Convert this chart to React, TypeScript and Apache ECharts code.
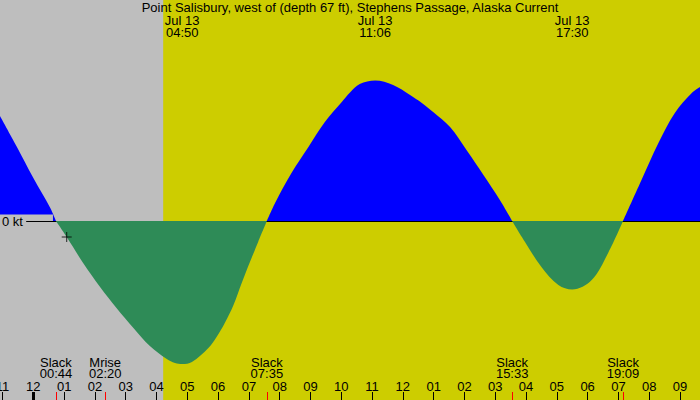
import React, { useEffect, useRef } from "react";
import * as echarts from "echarts";

const TITLE = "Point Salisbury, west of (depth 67 ft), Stephens Passage, Alaska Current";

// minutes from midnight Jul 13, current speed in knots (+ flood, - ebb)
const MINUTES = [
  -65, -32, 0, 33, 44, 65, 97, 130, 162, 195, 227, 260, 276, 290, 309, 341, 357, 373, 390, 406,
  422, 438, 455, 471, 503, 536, 568, 601, 617, 636, 666, 701, 734, 757, 779, 812, 844, 877, 909,
  933, 958, 990, 1023, 1050, 1088, 1120, 1149, 1185, 1218, 1250, 1283, 1299,
];
const KNOTS = [
  1.05, 0.74, 0.43, 0.13, 0, -0.16, -0.42, -0.66, -0.87, -1.07, -1.25, -1.38, -1.42, -1.43, -1.41,
  -1.27, -1.16, -1.02, -0.84, -0.62, -0.41, -0.21, 0, 0.18, 0.48, 0.74, 0.99, 1.19, 1.285, 1.37,
  1.405, 1.36, 1.26, 1.18, 1.09, 0.94, 0.71, 0.46, 0.21, 0, -0.21, -0.46, -0.64, -0.685, -0.59,
  -0.32, 0, 0.41, 0.78, 1.08, 1.28, 1.34,
];

const HOUR_TICKS = [
  -60, 0, 60, 120, 180, 240, 300, 360, 420, 480, 540, 600, 660, 720, 780, 840, 900, 960, 1020,
  1080, 1140, 1200, 1260,
];
const HOUR_LABELS = [
  "11", "12", "01", "02", "03", "04", "05", "06", "07", "08", "09", "10", "11", "12", "01", "02",
  "03", "04", "05", "06", "07", "08", "09",
];
const MIDNIGHT = [0];

const EVENT_MINUTES = [44, 140, 455, 933, 1149];
const EVENT_NAMES = ["Slack", "Mrise", "Slack", "Slack", "Slack"];
const EVENT_TIMES = ["00:44", "02:20", "07:35", "15:33", "19:09"];

const PEAK_MINUTES = [290, 666, 1050];
const PEAK_DATES = ["Jul 13", "Jul 13", "Jul 13"];
const PEAK_TIMES = ["04:50", "11:06", "17:30"];

const SUNRISE = 253;
const NOW_POINT = [65, -0.16];
const ZERO_LINE_START = -14;

const X_MIN = -65;
const X_MAX = 1299;
const Y_MIN = -1.79;
const Y_MAX = 2.21;

const FONT = "'Liberation Sans', Arial, sans-serif";
const FS = 13;
const NIGHT = "#bebebe";
const DAY = "#cdcd00";

export default function App() {
  const ref = useRef<HTMLDivElement>(null);

  useEffect(() => {
    document.body.style.margin = "0";
    const chart = echarts.init(ref.current!, undefined, { renderer: "svg" });

    const flood = MINUTES.map((m, i) => [m, KNOTS[i] >= 0 ? KNOTS[i] : null]);
    const ebb = MINUTES.map((m, i) => [m, KNOTS[i] <= 0 ? KNOTS[i] : null]);

    const baseX = {
      type: "value" as const,
      min: X_MIN,
      max: X_MAX,
      gridIndex: 0,
      splitLine: { show: false },
      axisLine: { show: false, onZero: false },
      z: 10,
    };

    const option: any = {
      animation: false,
      backgroundColor: DAY,
      title: {
        text: TITLE,
        left: "center",
        top: 1,
        padding: 0,
        z: 10,
        textStyle: { fontFamily: FONT, fontSize: FS, fontWeight: "normal", color: "#000", lineHeight: 12 },
      },
      grid: { left: 0, right: 0, top: 0, bottom: 0, containLabel: false, outerBoundsMode: "none" },
      xAxis: [
        {
          ...baseX,
          position: "bottom",
          axisTick: { show: true, inside: true, length: 8, customValues: HOUR_TICKS, lineStyle: { color: "#000", width: 1 } },
          axisLabel: {
            show: true,
            inside: true,
            margin: 8,
            hideOverlap: false,
            showMinLabel: true,
            showMaxLabel: true,
            customValues: HOUR_TICKS,
            formatter: (v: number) => HOUR_LABELS[HOUR_TICKS.indexOf(Math.round(v))] ?? "",
            color: "#000",
            fontFamily: FONT,
            fontSize: FS,
            lineHeight: 12,
          },
        },
        {
          ...baseX,
          position: "bottom",
          offset: 0,
          axisTick: { show: true, inside: true, length: 8, customValues: EVENT_MINUTES, lineStyle: { color: "#ff0000", width: 1 } },
          axisLabel: {
            show: true,
            inside: true,
            margin: 21,
            customValues: EVENT_MINUTES,
            formatter: (v: number) => {
              const i = EVENT_MINUTES.indexOf(Math.round(v));
              return i < 0 ? "" : EVENT_NAMES[i] + "\n" + EVENT_TIMES[i];
            },
            color: "#000",
            fontFamily: FONT,
            fontSize: FS,
            lineHeight: 11,
          },
        },
        {
          ...baseX,
          position: "bottom",
          offset: 0,
          axisTick: { show: true, inside: true, length: 8, customValues: MIDNIGHT, lineStyle: { color: "#000", width: 3 } },
          axisLabel: { show: false },
        },
        {
          ...baseX,
          position: "top",
          offset: 0,
          axisTick: { show: false },
          axisLabel: {
            show: true,
            inside: true,
            margin: 14,
            customValues: PEAK_MINUTES,
            formatter: (v: number) => {
              const i = PEAK_MINUTES.indexOf(Math.round(v));
              return i < 0 ? "" : PEAK_DATES[i] + "\n" + PEAK_TIMES[i];
            },
            color: "#000",
            fontFamily: FONT,
            fontSize: FS,
            lineHeight: 12,
          },
        },
      ],
      yAxis: {
        type: "value",
        min: Y_MIN,
        max: Y_MAX,
        z: 3,
        axisLine: { show: false, onZero: false },
        axisTick: { show: false },
        splitLine: { show: false },
        axisLabel: {
          show: true,
          inside: true,
          margin: 0,
          customValues: [0],
          formatter: () => "0 kt",
          color: "#000",
          fontFamily: FONT,
          fontSize: FS,
          lineHeight: 12,
          backgroundColor: NIGHT,
          padding: [1, 30, 0, 2],
        },
      },
      series: [
        {
          type: "line",
          name: "night",
          data: [],
          z: 0,
          silent: true,
          markArea: {
            silent: true,
            z: 0,
            itemStyle: { color: NIGHT },
            data: [[{ xAxis: X_MIN }, { xAxis: SUNRISE }]],
          },
        },
        {
          type: "line",
          name: "flood",
          data: flood,
          z: 2,
          symbol: "none",
          smooth: 0.35,
          connectNulls: false,
          lineStyle: { width: 0, opacity: 0 },
          areaStyle: { color: "#0000ff", opacity: 1 },
          silent: true,
        },
        {
          type: "line",
          name: "zero",
          data: [],
          z: 4,
          silent: true,
          markLine: {
            silent: true,
            z: 4,
            symbol: "none",
            label: { show: false },
            lineStyle: { color: "#000", width: 1, type: "solid" },
            data: [[{ coord: [ZERO_LINE_START, 0] }, { coord: [X_MAX, 0] }]],
          },
        },
        {
          type: "line",
          name: "ebb",
          data: ebb,
          z: 5,
          symbol: "none",
          smooth: 0.35,
          connectNulls: false,
          lineStyle: { width: 0, opacity: 0 },
          areaStyle: { color: "#2e8b57", opacity: 1 },
          silent: true,
        },
        {
          type: "scatter",
          name: "now",
          data: [NOW_POINT],
          z: 6,
          symbol: "path://M0 5L10 5M5 0L5 10",
          symbolSize: 10,
          itemStyle: { color: "none", borderColor: "#000", borderWidth: 1 },
          silent: true,
        },
      ],
    };

    chart.setOption(option);
    return () => chart.dispose();
  }, []);

  return <div ref={ref} style={{ width: 700, height: 400 }} />;
}
